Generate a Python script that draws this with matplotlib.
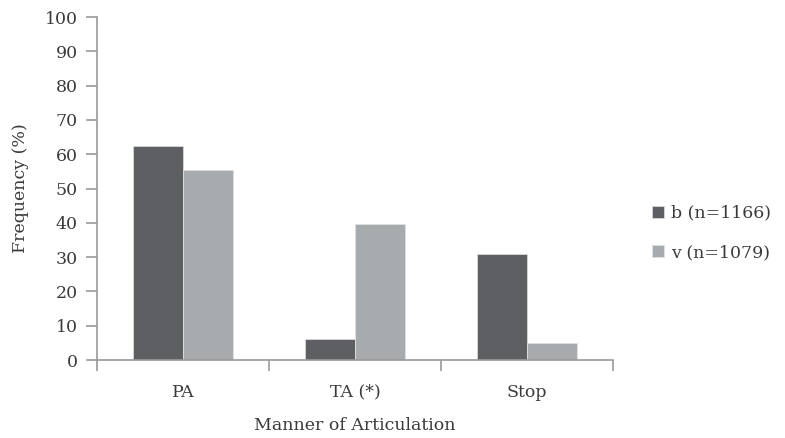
import matplotlib
matplotlib.use("Agg")
import matplotlib.pyplot as plt
import numpy as np

categories = ["PA", "TA (*)", "Stop"]
series_names = ["b (n=1166)", "v (n=1079)"]
b_values = [62.5, 6, 31]
v_values = [55.3, 39.7, 5]
yticks = list(range(0, 101, 10))

dark = "#5e5f63"
light = "#a8abae"
axis_col = "#9a9a9a"
text_col = "#3a3a3a"

plt.rcParams['font.family'] = ['DejaVu Serif']
fs = 12.5

fig = plt.figure(figsize=(7.85, 4.38), dpi=100)
ax = fig.add_axes([0.1236, 0.178, 0.657, 0.783])

x = np.arange(len(categories))
w = 0.29
ax.bar(x - w/2, b_values, w, color=dark, edgecolor="#d8d8d8", linewidth=0.6, label=series_names[0])
ax.bar(x + w/2, v_values, w, color=light, edgecolor="#e0e0e0", linewidth=0.6, label=series_names[1])

ax.set_xlim(-0.5, len(categories) - 0.5)
ax.set_ylim(0, 100)
ax.set_yticks(yticks)
ax.set_xticks(x)
ax.set_xticklabels(categories)
ax.set_xticks(np.arange(-0.5, len(categories), 1.0), minor=True)
ax.tick_params(axis='x', which='major', length=0, pad=17, labelsize=fs, colors=text_col)
ax.tick_params(axis='x', which='minor', length=8, color=axis_col, width=1.2)
ax.tick_params(axis='y', length=8, color=axis_col, width=1.2, labelsize=fs, colors=text_col, pad=6)

for s in ['top', 'right']:
    ax.spines[s].set_visible(False)
for s in ['left', 'bottom']:
    ax.spines[s].set_color(axis_col)
    ax.spines[s].set_linewidth(1.2)

ax.set_ylabel("Frequency (%)", fontsize=fs, color=text_col, labelpad=11)
ax.set_xlabel("Manner of Articulation", fontsize=fs, color=text_col, labelpad=12)

leg = ax.legend(loc='center left', bbox_to_anchor=(1.045, 0.37), frameon=False,
                fontsize=fs, handlelength=0.7, handleheight=0.7, handletextpad=0.4,
                labelspacing=1.3)
for t in leg.get_texts():
    t.set_color(text_col)

fig.savefig("out.png", dpi=100)
